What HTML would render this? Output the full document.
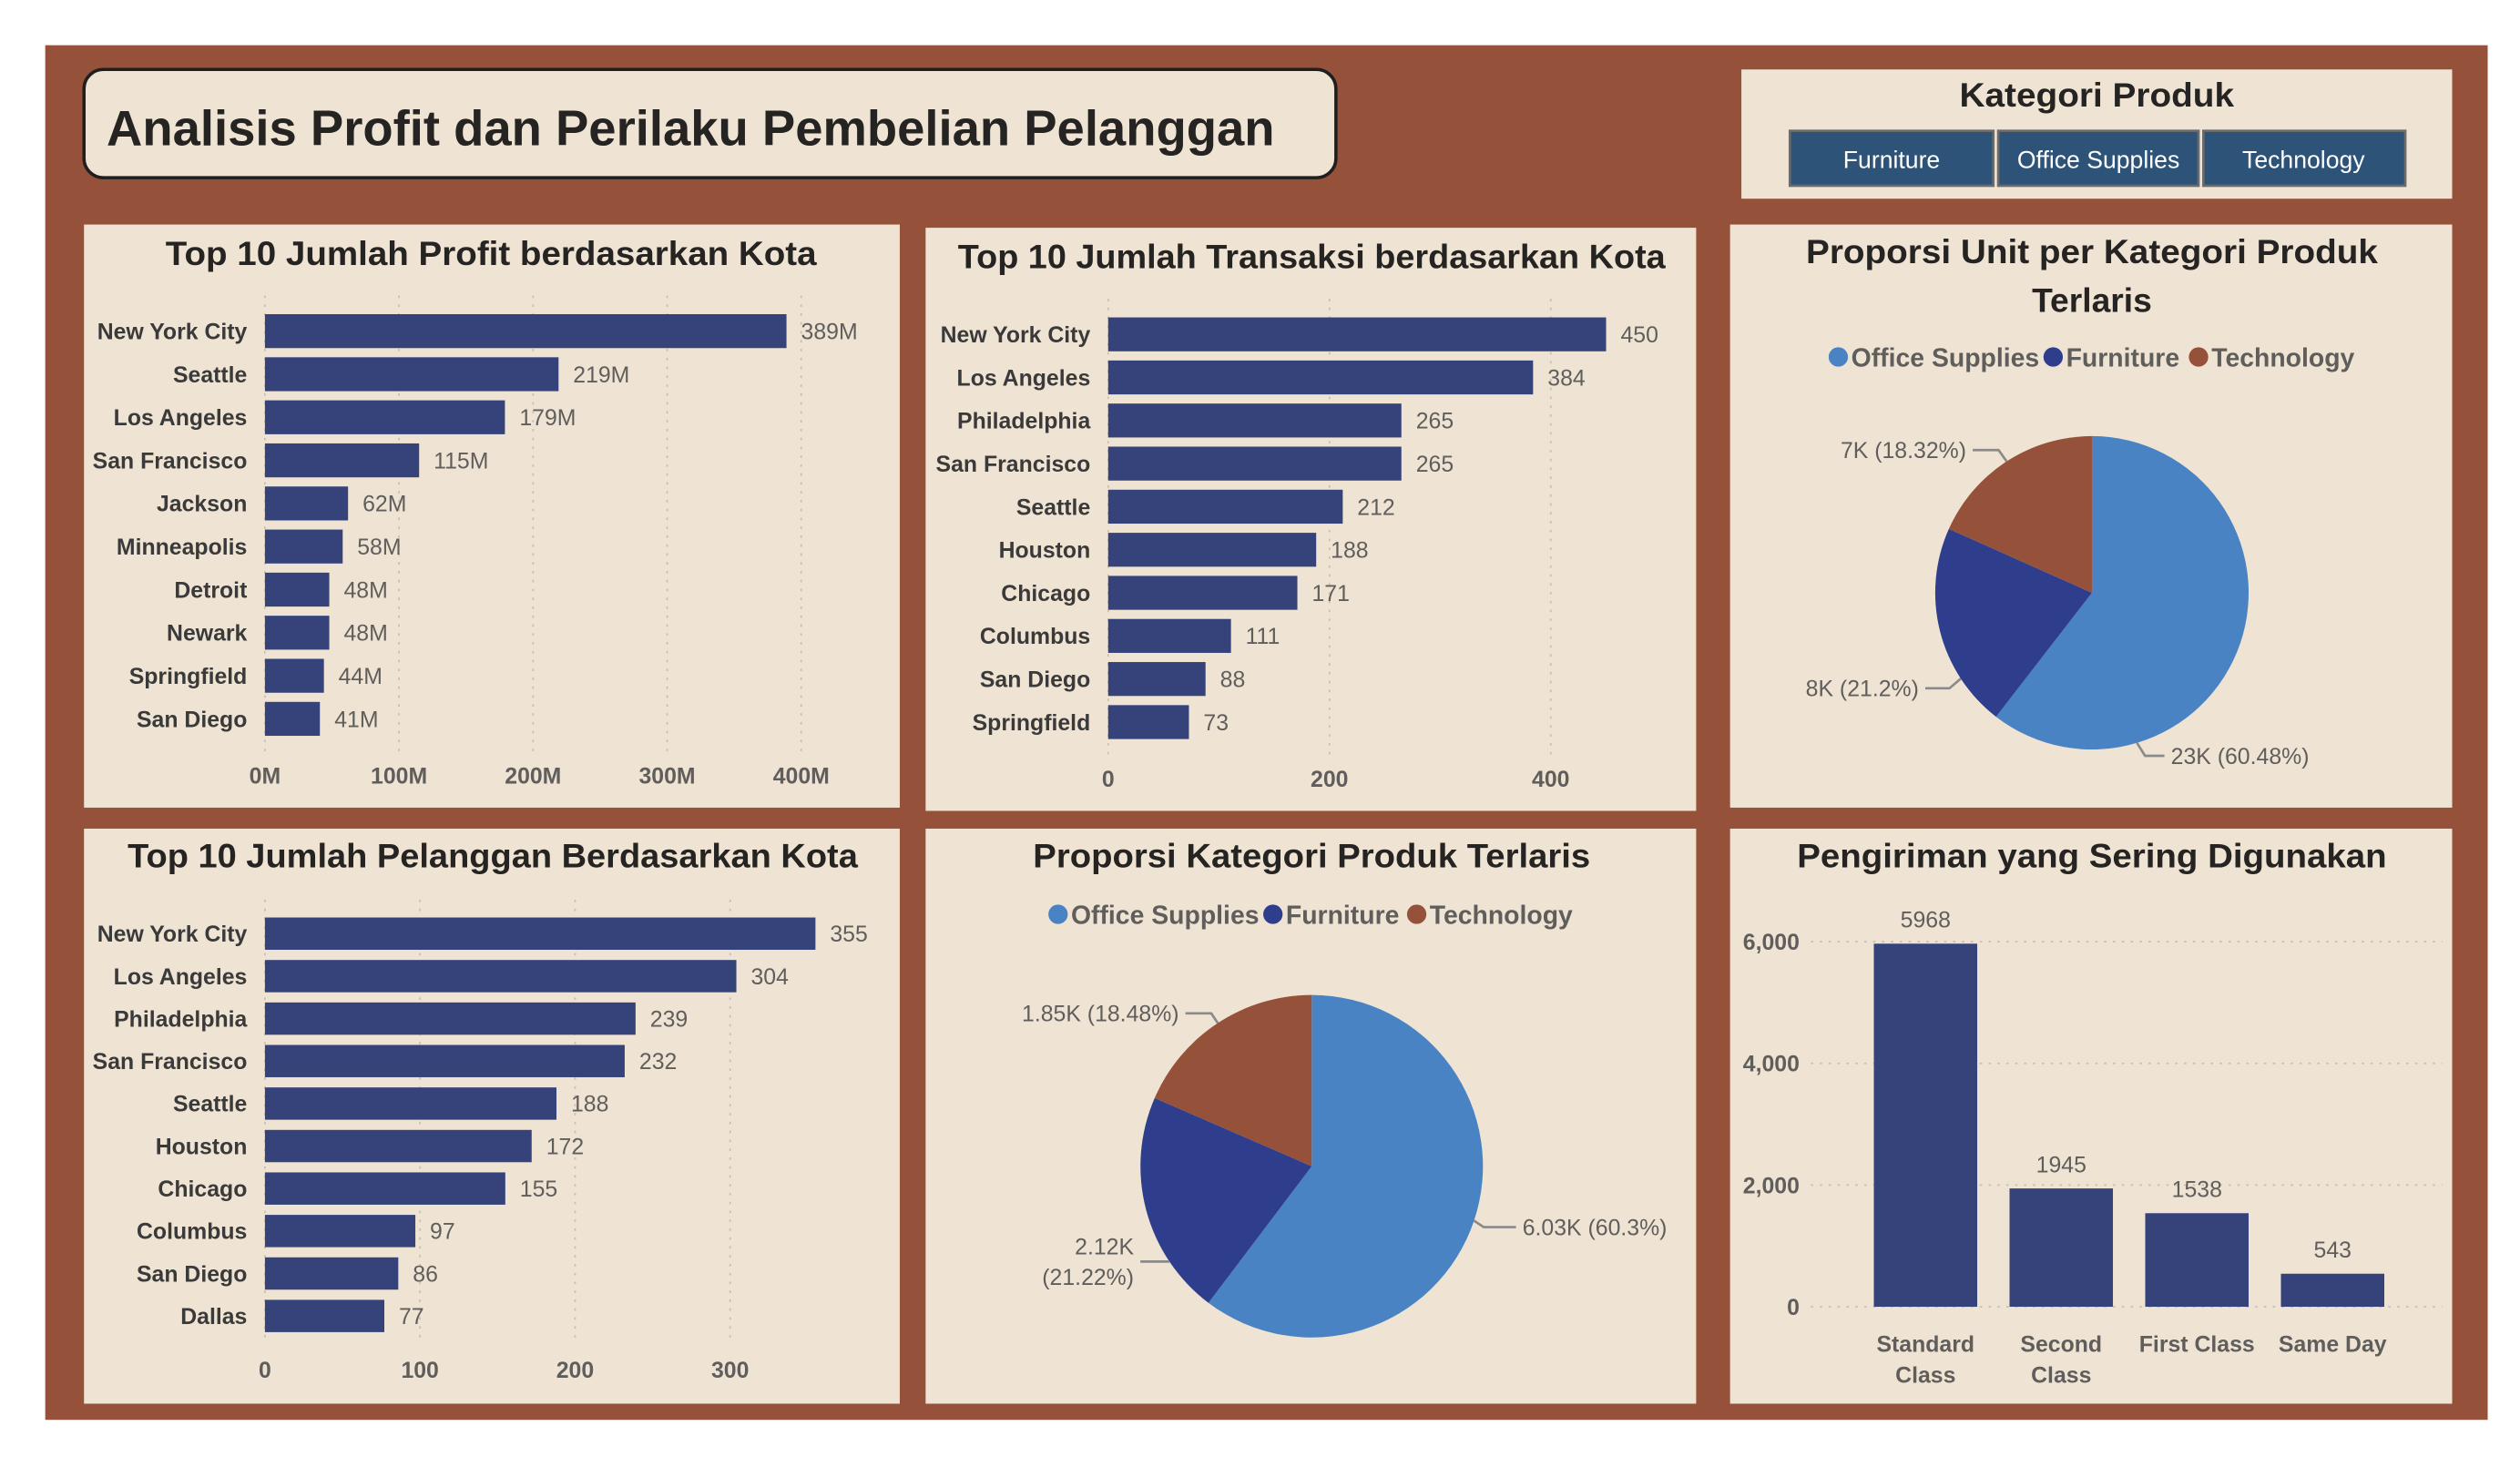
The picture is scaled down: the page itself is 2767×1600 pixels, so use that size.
<!DOCTYPE html>
<html><head><meta charset="utf-8"><title>Analisis Profit</title>
<style>
html,body{margin:0;padding:0;background:#fff;}
svg{display:block;}
text{font-family:"Liberation Sans",sans-serif;}
</style></head>
<body>
<svg id="dash" width="2767" height="1600" viewBox="0 0 1560 902" preserveAspectRatio="none" xmlns="http://www.w3.org/2000/svg">
<rect x="0" y="0" width="1560" height="902" fill="#ffffff"/>
<rect x="28" y="28" width="1512" height="851" fill="#96513A"/>
<rect x="52" y="43" width="775" height="67" rx="12" fill="#EFE4D3" stroke="#1f1f1f" stroke-width="2"/>
<text x="66" y="90" font-size="31" font-weight="bold" fill="#252423" textLength="723" lengthAdjust="spacingAndGlyphs">Analisis Profit dan Perilaku Pembelian Pelanggan</text>

<rect x="1078" y="43" width="440" height="80" fill="#EFE4D3"/>
<text x="1298" y="66" font-size="21" font-weight="bold" fill="#252423" text-anchor="middle" textLength="170" lengthAdjust="spacingAndGlyphs">Kategori Produk</text>
<g><rect x="1108" y="81" width="126" height="34" fill="#2D5478" stroke="#6b6b6b" stroke-width="1.5"/><text x="1171" y="104" font-size="15" fill="#fff" text-anchor="middle">Furniture</text></g>
<g><rect x="1237" y="81" width="124" height="34" fill="#2D5478" stroke="#6b6b6b" stroke-width="1.5"/><text x="1299" y="104" font-size="15" fill="#fff" text-anchor="middle">Office Supplies</text></g>
<g><rect x="1364" y="81" width="125" height="34" fill="#2D5478" stroke="#6b6b6b" stroke-width="1.5"/><text x="1426" y="104" font-size="15" fill="#fff" text-anchor="middle">Technology</text></g>

<rect x="52" y="139" width="505" height="361" fill="#EFE4D3"/>
<rect x="573" y="141" width="477" height="361" fill="#EFE4D3"/>
<rect x="1071" y="139" width="447" height="361" fill="#EFE4D3"/>
<rect x="52" y="513" width="505" height="356" fill="#EFE4D3"/>
<rect x="573" y="513" width="477" height="356" fill="#EFE4D3"/>
<rect x="1071" y="513" width="447" height="356" fill="#EFE4D3"/>

<text x="304" y="164" font-size="21" font-weight="bold" fill="#252423" text-anchor="middle" textLength="403" lengthAdjust="spacingAndGlyphs">Top 10 Jumlah Profit berdasarkan Kota</text>
<text x="812" y="166" font-size="21" font-weight="bold" fill="#252423" text-anchor="middle" textLength="438" lengthAdjust="spacingAndGlyphs">Top 10 Jumlah Transaksi berdasarkan Kota</text>
<text x="1295" y="163" font-size="21" font-weight="bold" fill="#252423" text-anchor="middle" textLength="354" lengthAdjust="spacingAndGlyphs">Proporsi Unit per Kategori Produk</text>
<text x="1295" y="193" font-size="21" font-weight="bold" fill="#252423" text-anchor="middle">Terlaris</text>
<text x="305" y="537" font-size="21" font-weight="bold" fill="#252423" text-anchor="middle" textLength="452" lengthAdjust="spacingAndGlyphs">Top 10 Jumlah Pelanggan Berdasarkan Kota</text>
<text x="812" y="537" font-size="21" font-weight="bold" fill="#252423" text-anchor="middle" textLength="345" lengthAdjust="spacingAndGlyphs">Proporsi Kategori Produk Terlaris</text>
<text x="1295" y="537" font-size="21" font-weight="bold" fill="#252423" text-anchor="middle" textLength="365" lengthAdjust="spacingAndGlyphs">Pengiriman yang Sering Digunakan</text>
<g id="charts"></g>
</svg>
<script>
// Chart 1: profit (M)
const profitCities = ["New York City","Seattle","Los Angeles","San Francisco","Jackson","Minneapolis","Detroit","Newark","Springfield","San Diego"];
const profitValues = [389,219,179,115,62,58,48,48,44,41];
const profitTicks = [0,100,200,300,400];
// Chart 2: transactions
const transCities = ["New York City","Los Angeles","Philadelphia","San Francisco","Seattle","Houston","Chicago","Columbus","San Diego","Springfield"];
const transValues = [450,384,265,265,212,188,171,111,88,73];
const transTicks = [0,200,400];
// Chart 4: customers
const custCities = ["New York City","Los Angeles","Philadelphia","San Francisco","Seattle","Houston","Chicago","Columbus","San Diego","Dallas"];
const custValues = [355,304,239,232,188,172,155,97,86,77];
const custTicks = [0,100,200,300];
// Pie charts
const pieCategories = ["Office Supplies","Furniture","Technology"];
const unitShares = [60.48,21.2,18.32];
const unitLabels = ["23K (60.48%)","8K (21.2%)","7K (18.32%)"];
const catShares = [60.3,21.22,18.48];
const catLabels = ["6.03K (60.3%)","2.12K (21.22%)","1.85K (18.48%)"];
// Chart 6: shipping
const shipModes = [["Standard","Class"],["Second","Class"],["First Class"],["Same Day"]];
const shipValues = [5968,1945,1538,543];
const shipTicks = [0,2000,4000,6000];

const NS="http://www.w3.org/2000/svg";
const root=document.getElementById('charts');
const BAR="#36437A", GRAY="#605E5C";
const pieColors=["#4A83C4","#2E3D8C","#96513A"];
function el(tag,attrs,parent){const e=document.createElementNS(NS,tag);for(const k in attrs)e.setAttribute(k,attrs[k]);(parent||root).appendChild(e);return e;}
function txt(s,attrs,parent){const t=el('text',attrs,parent);t.textContent=s;return t;}

function hbar(name,cats,vals,ticks,x0,pxPer,y0,step,bh,tickY,gTop,gBot,fmt,tickFmt){
  const g=el('g',{});
  
  
  const xs=v=>x0+v*pxPer;
  ticks.forEach(t=>{
    const l=el('line',{x1:xs(t),x2:xs(t),y1:gTop,y2:gBot,stroke:"#c9bfb0","stroke-width":1,"stroke-dasharray":"1.5 4"},g);
    
    
    const tl=txt(tickFmt(t),{x:xs(t),y:tickY,"font-size":14,"font-weight":"bold",fill:GRAY,"text-anchor":"middle"},g);
    
    
  });
  cats.forEach((c,i)=>{
    const cy=y0+i*step;
    const cl=txt(c,{x:x0-11,y:cy+5,"font-size":14,"font-weight":"bold",fill:"#3a3a3a","text-anchor":"end"},g);
    
    
    const r=el('rect',{x:x0,y:cy-bh/2,width:vals[i]*pxPer,height:bh,fill:BAR},g);
    
    
    const vl=txt(fmt(vals[i]),{x:xs(vals[i])+9,y:cy+5,"font-size":14,fill:GRAY},g);
    
    
  });
}
hbar('profit-bar-chart',profitCities,profitValues,profitTicks,164,0.83,205,26.67,21,485,183,468,v=>v+"M",t=>t+"M");
hbar('transaction-bar-chart',transCities,transValues,transTicks,686,0.685,207,26.67,21,487,185,470,v=>""+v,t=>""+t);
hbar('customer-bar-chart',custCities,custValues,custTicks,164,0.96,578,26.3,20,853,557,832,v=>""+v,t=>""+t);

function pie(name,shares,labels,cx,cy,r,legendY,legendX,labelPos){
  const g=el('g',{});
  
  
  const total=shares.reduce((a,b)=>a+b,0);
  let a=-Math.PI/2;
  shares.forEach((s,i)=>{
    const a2=a+s/total*2*Math.PI;
    const large=(a2-a)>Math.PI?1:0;
    const d=`M${cx},${cy} L${cx+r*Math.cos(a)},${cy+r*Math.sin(a)} A${r},${r} 0 ${large} 1 ${cx+r*Math.cos(a2)},${cy+r*Math.sin(a2)} Z`;
    const p=el('path',{d:d,fill:pieColors[i]},g);
    
    
    const lp=labelPos[i];
    let mid=(a+a2)/2;
    if(lp.shift!==undefined) mid+=lp.shift*(a2-a);
    const ex=cx+r*Math.cos(mid), ey=cy+r*Math.sin(mid);
    const ln=el('polyline',{points:`${ex},${ey} ${ex+(lp.dx1)},${ey+lp.dy1} ${ex+lp.dx2},${ey+lp.dy1}`,fill:"none",stroke:"#8a8a8a","stroke-width":1.5},g);
    
    
    const lx=ex+lp.dx2+(lp.anchor==="end"?-4:4);
    const parts=lp.split?labels[i].split(" "):[labels[i]];
    parts.forEach((pt,k)=>{
      const t=txt(pt,{x:lx,y:ey+lp.dy1+5+(k-(parts.length-1)/2)*19,"font-size":14,fill:GRAY,"text-anchor":lp.anchor},g);
      
      
    });
    a=a2;
  });
  legendX.forEach((lx,i)=>{
    const c=el('circle',{cx:lx,cy:legendY,r:6,fill:pieColors[i]},g);
    
    
    const t=txt(pieCategories[i],{x:lx+8,y:legendY+6,"font-size":16,"font-weight":"bold",fill:GRAY},g);
    
    
  });
}
pie('unit-pie-chart',unitShares,unitLabels,1295,367,97,221,[1138,1271,1361],
  [{dx1:5,dy1:8,dx2:17,anchor:"start",shift:0.25},{dx1:-7,dy1:6,dx2:-22,anchor:"end",shift:-0.25},{dx1:-5,dy1:-7,dx2:-21,anchor:"end"}]);
pie('category-pie-chart',catShares,catLabels,812,722,106,566,[655,788,877],
  [{dx1:6,dy1:4,dx2:26,anchor:"start"},{dx1:-8,dy1:0,dx2:-18,anchor:"end",split:true,shift:-0.25},{dx1:-4,dy1:-6,dx2:-20,anchor:"end"}]);

// Shipping column chart
(function(){
  const g=el('g',{});
  
  
  const y0=809, per=226/6000;
  const ys=v=>y0-v*per;
  shipTicks.forEach(t=>{
    const l=el('line',{x1:1121,x2:1512,y1:ys(t),y2:ys(t),stroke:"#c9bfb0","stroke-width":1,"stroke-dasharray":"1.5 4"},g);
    
    
    const tl=txt(t.toLocaleString('en-US'),{x:1114,y:ys(t)+5,"font-size":14,"font-weight":"bold",fill:GRAY,"text-anchor":"end"},g);
    
    
  });
  shipValues.forEach((v,i)=>{
    const cx=1192+i*84;
    const r=el('rect',{x:cx-32,y:ys(v),width:64,height:v*per,fill:BAR},g);
    
    
    const vl=txt(""+v,{x:cx,y:ys(v)-10,"font-size":14,fill:GRAY,"text-anchor":"middle"},g);
    
    
    shipModes[i].forEach((s,k)=>{
      const t=txt(s,{x:cx,y:837+k*19,"font-size":14,"font-weight":"bold",fill:GRAY,"text-anchor":"middle"},g);
      
      
    });
  });
})();
</script>
</body></html>
